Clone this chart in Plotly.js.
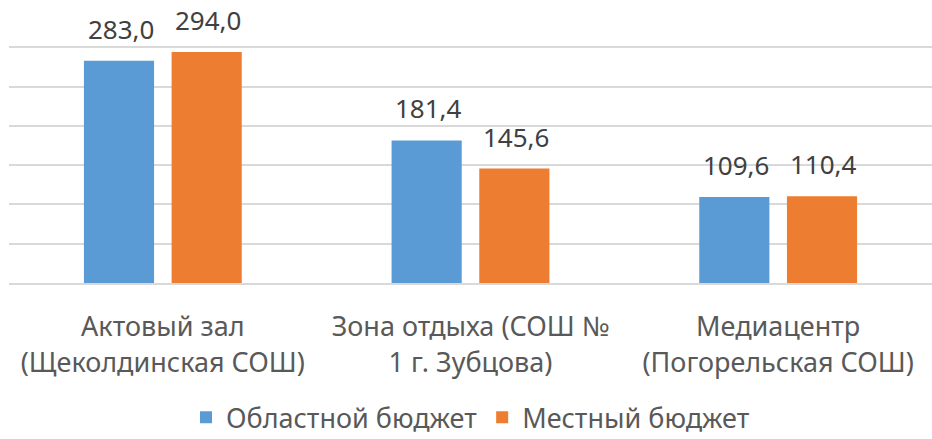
<!DOCTYPE html>
<html>
<head>
<meta charset="utf-8">
<script src="https://cdn.plot.ly/plotly-3.0.1.min.js"></script>
<style>html,body{margin:0;padding:0;background:#fff;}#chart{width:932px;height:439px;}</style>
</head>
<body>
<div id="chart"></div>
<script>
const categories = ["Актовый зал<br>(Щеколдинская СОШ)", "Зона отдыха (СОШ №<br>1 г. Зубцова)", "Медиацентр<br>(Погорельская СОШ)"];
const seriesNames = ["Областной бюджет", "Местный бюджет"];
const regional = [283.0, 181.4, 109.6];
const local = [294.0, 145.6, 110.4];
const colors = ["#5B9BD5", "#ED7D31"];

const FONT = "Noto Sans, sans-serif";
const traces = [regional, local].map((vals, i) => ({
  type: "bar",
  name: seriesNames[i],
  x: categories,
  y: vals,
  marker: {color: colors[i]},
  hoverinfo: "skip"
}));

const annotations = [];
[regional, local].forEach((vals, i) => {
  vals.forEach((v, j) => {
    annotations.push({
      x: categories[j], y: v, xref: "x", yref: "y",
      text: v.toFixed(1).replace(".", ","),
      showarrow: false, yanchor: "bottom",
      xshift: i === 0 ? -42 : 45, yshift: 12,
      font: {family: FONT, size: 26, color: "#404040"}
    });
  });
});

const layout = {
  width: 932, height: 439,
  margin: {l: 9, r: 0, t: 8, b: 156, autoexpand: false},
  paper_bgcolor: "#fff", plot_bgcolor: "#fff",
  barmode: "group", bargap: 0.43, bargroupgap: 0.2,
  showlegend: true,
  legend: {orientation: "h", x: 0.5, xanchor: "center", y: -0.49, yanchor: "middle",
           font: {family: FONT, size: 27, color: "#595959"}, itemwidth: 30, traceorder: "normal"},
  xaxis: {tickfont: {family: FONT, size: 27, color: "#595959"}, showline: true, linecolor: "#d9d9d9", linewidth: 2,
          ticks: "", showgrid: false, ticklabelstandoff: 19, automargin: false},
  yaxis: {range: [0, 350], dtick: 50, showticklabels: false, showgrid: true, gridcolor: "#d9d9d9", gridwidth: 2,
          zeroline: false, ticks: "", automargin: false},
  annotations: annotations
};
Plotly.newPlot("chart", traces, layout, {displayModeBar: false, staticPlot: true});
</script>
</body>
</html>
